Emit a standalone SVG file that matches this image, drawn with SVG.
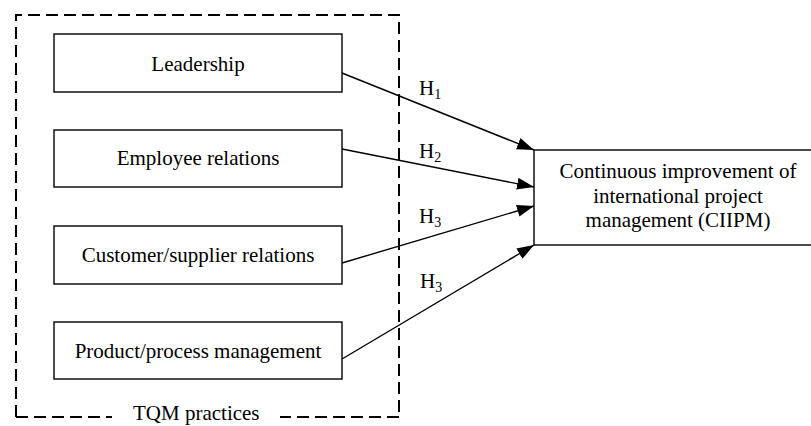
<svg xmlns="http://www.w3.org/2000/svg" width="811" height="426" viewBox="0 0 811 426">
<style>
.box{fill:#fff;stroke:#000;stroke-width:1.4}
.dash{fill:none;stroke:#000;stroke-width:2;stroke-dasharray:12 6}
.t{font-family:"Liberation Serif","Times New Roman",serif;font-size:21px;fill:#000}
.c{text-anchor:middle}
.sub{font-size:14px}
.edge{stroke:#000;stroke-width:1.4;fill:none;marker-end:url(#ah)}
</style>
<defs>
<marker id="ah" markerUnits="userSpaceOnUse" markerWidth="18" markerHeight="13" refX="17" refY="6" orient="auto">
<path d="M0,0 L17,6 L0,12 z" fill="#000"/>
</marker>
</defs>
<rect width="811" height="426" fill="#fff"/>
<g id="group-tqm">
<path class="dash" d="M16,417 L16,15 L399,15 L399,417"/>
<path class="dash" d="M16,417 L112,417"/>
<path class="dash" d="M399,417 L280,417"/>
<text class="t" x="133" y="420">TQM practices</text>
</g>
<g id="node-leadership">
<rect class="box" x="54" y="34" width="288" height="58"/>
<text class="t c" x="198" y="71">Leadership</text>
</g>
<g id="node-employee">
<rect class="box" x="54" y="130" width="288" height="57"/>
<text class="t c" x="198" y="165">Employee relations</text>
</g>
<g id="node-customer">
<rect class="box" x="54" y="226" width="288" height="58"/>
<text class="t c" x="198" y="262">Customer/supplier relations</text>
</g>
<g id="node-product">
<rect class="box" x="54" y="322" width="288" height="57"/>
<text class="t c" x="198" y="358">Product/process management</text>
</g>
<g id="node-ciipm">
<rect class="box" x="534" y="150" width="290" height="95"/>
<text class="t c" x="678" y="178">Continuous improvement of</text>
<text class="t c" x="678" y="203">international project</text>
<text class="t c" x="678" y="227">management (CIIPM)</text>
</g>
<g id="connectors">
<line class="edge" x1="342" y1="73" x2="534" y2="150"/>
<line class="edge" x1="342" y1="149" x2="534" y2="187"/>
<line class="edge" x1="342" y1="263" x2="534" y2="206"/>
<line class="edge" x1="342" y1="359" x2="534" y2="245"/>
<text class="t" x="419" y="95">H<tspan class="sub" dy="4">1</tspan></text>
<text class="t" x="419" y="158">H<tspan class="sub" dy="4">2</tspan></text>
<text class="t" x="419" y="223">H<tspan class="sub" dy="4">3</tspan></text>
<text class="t" x="420" y="288">H<tspan class="sub" dy="4">3</tspan></text>
</g>
</svg>
